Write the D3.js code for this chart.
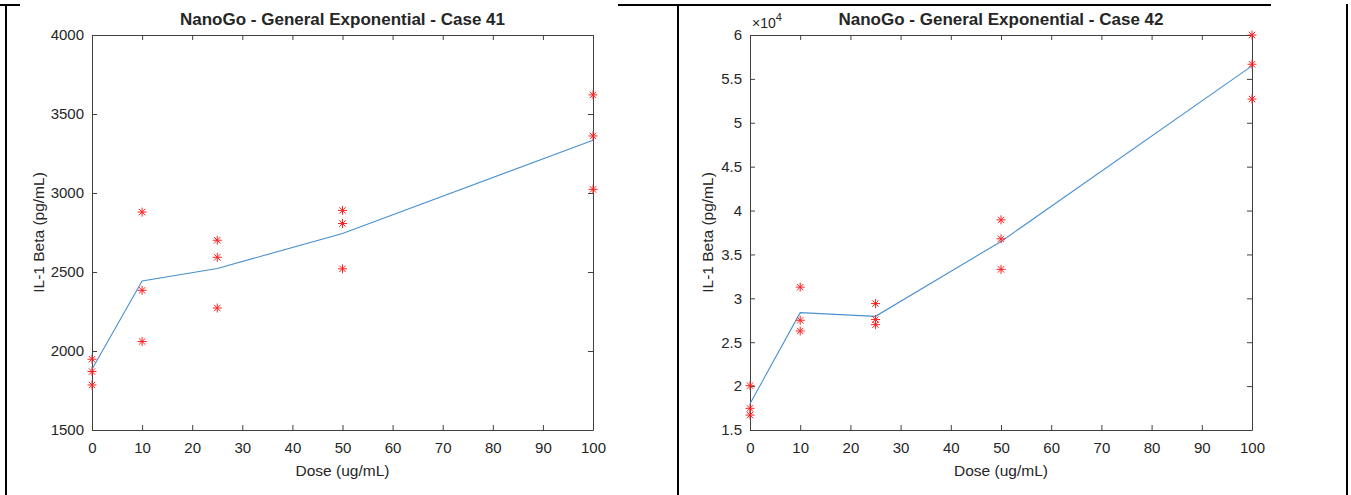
<!DOCTYPE html>
<html>
<head>
<meta charset="utf-8">
<script src="https://cdn.jsdelivr.net/npm/d3@7/dist/d3.min.js"></script>
<style>
  html, body { margin: 0; padding: 0; background: #fff; }
  svg { display: block; }
  text { font-family: Arial, "Liberation Sans", sans-serif; fill: #262626; }
</style>
</head>
<body>
<svg id="chart" width="1351" height="495"></svg>
<script>
// ---- data ----
const doses = [0, 10, 25, 50, 100];
const xTicks = [0, 10, 20, 30, 40, 50, 60, 70, 80, 90, 100];

// Case 41 (pg/mL), three replicates per dose
const obs41 = [
  [1948, 1870, 1785],
  [2879, 2384, 2060],
  [2701, 2593, 2272],
  [2890, 2807, 2520],
  [3621, 3361, 3023]
];
const fit41 = [1885, 2443, 2522, 2744, 3334];
const yTicks41 = [1500, 2000, 2500, 3000, 3500, 4000];

// Case 42 (pg/mL), three replicates per dose
const obs42 = [
  [20050, 17470, 16700],
  [31280, 27500, 26280],
  [29400, 27580, 27000],
  [38940, 36780, 33300],
  [60000, 56670, 52700]
];
const fit42 = [18000, 28370, 27950, 36480, 56480];
const yTicks42 = [15000, 20000, 25000, 30000, 35000, 40000, 45000, 50000, 55000, 60000];

const titles = ["NanoGo - General Exponential - Case 41", "NanoGo - General Exponential - Case 42"];
const xLabel = "Dose (ug/mL)";
const yLabel = "IL-1 Beta (pg/mL)";

// ---- drawing ----
const svg = d3.select("#chart");

// frame lines (table borders)
const frame = svg.append("g").attr("stroke", "#000").attr("stroke-width", 2);
frame.append("line").attr("x1", 6).attr("x2", 6).attr("y1", 4).attr("y2", 495);
frame.append("line").attr("x1", 678).attr("x2", 678).attr("y1", 4).attr("y2", 495);
frame.append("line").attr("x1", 1347).attr("x2", 1347).attr("y1", 4).attr("y2", 495);
frame.append("line").attr("x1", 0).attr("x2", 20).attr("y1", 5).attr("y2", 5);
frame.append("line").attr("x1", 618).attr("x2", 1271).attr("y1", 5).attr("y2", 5);

function asterisk(g, cx, cy, r) {
  const d = r * Math.SQRT1_2;
  const p = `M${cx - r},${cy}L${cx + r},${cy}M${cx},${cy - r}L${cx},${cy + r}` +
            `M${cx - d},${cy - d}L${cx + d},${cy + d}M${cx - d},${cy + d}L${cx + d},${cy - d}`;
  g.append("path").attr("d", p).attr("stroke", "#ff2020").attr("stroke-width", 1).attr("fill", "none");
}

function panel(opts) {
  const { x0, x1, yTop, yBot, domain, yTicks, obs, fit, title, fmt, exponent, ylabX } = opts;
  const g = svg.append("g");
  const x = d3.scaleLinear().domain([0, 100]).range([x0, x1]);
  const y = d3.scaleLinear().domain(domain).range([yBot, yTop]);
  const axisColor = "#404040";

  const styleAxis = (sel, labels) => {
    sel.select(".domain").attr("stroke", axisColor).attr("stroke-width", 1);
    sel.selectAll(".tick line").attr("stroke", axisColor).attr("stroke-width", 1);
    sel.selectAll(".tick text")
      .attr("font-size", 15)
      .attr("fill", "#262626")
      .attr("font-family", "Arial, 'Liberation Sans', sans-serif")
      .style("display", labels ? null : "none");
  };

  // bottom axis
  g.append("g").attr("transform", `translate(0,${yBot})`)
    .call(d3.axisBottom(x).tickValues(xTicks).tickSize(-5).tickSizeOuter(0).tickPadding(10))
    .call(s => styleAxis(s, true))
    .call(s => s.selectAll(".tick text").attr("dy", "0.71em").attr("y", 12));
  // top axis
  g.append("g").attr("transform", `translate(0,${yTop})`)
    .call(d3.axisTop(x).tickValues(xTicks).tickSize(-5).tickSizeOuter(0))
    .call(s => styleAxis(s, false));
  // left axis
  g.append("g").attr("transform", `translate(${x0},0)`)
    .call(d3.axisLeft(y).tickValues(yTicks).tickSize(-5).tickSizeOuter(0).tickPadding(8).tickFormat(fmt))
    .call(s => styleAxis(s, true));
  // right axis
  g.append("g").attr("transform", `translate(${x1},0)`)
    .call(d3.axisRight(y).tickValues(yTicks).tickSize(-5).tickSizeOuter(0))
    .call(s => styleAxis(s, false));

  // fit line
  const line = d3.line().x((d, i) => x(doses[i])).y(d => y(d));
  g.append("path").datum(fit).attr("d", line)
    .attr("fill", "none").attr("stroke", "#4a90d0").attr("stroke-width", 1.1);

  // observed points
  obs.forEach((vals, i) => {
    vals.forEach(v => asterisk(g, x(doses[i]), y(v), 4.5));
  });

  // title
  g.append("text").attr("x", (x0 + x1) / 2).attr("y", 25)
    .attr("text-anchor", "middle").attr("font-size", 17).attr("font-weight", "bold")
    .attr("fill", "#000").text(title);
  // x label
  g.append("text").attr("x", (x0 + x1) / 2).attr("y", 476)
    .attr("text-anchor", "middle").attr("font-size", 15.5).text(xLabel);
  // y label
  g.append("text").attr("transform", `translate(${ylabX},${(yTop + yBot) / 2}) rotate(-90)`)
    .attr("text-anchor", "middle").attr("font-size", 15.5).text(yLabel);

  if (exponent) {
    const t = g.append("text").attr("x", x0 + 2).attr("y", 28).attr("font-size", 14);
    t.append("tspan").text("\u00d710");
    t.append("tspan").attr("dy", -7).attr("font-size", 11).text(exponent);
  }
}

panel({
  x0: 92, x1: 593, yTop: 35, yBot: 430, domain: [1500, 4000], yTicks: yTicks41,
  obs: obs41, fit: fit41, title: titles[0], fmt: d3.format("d"), exponent: null, ylabX: 44
});
panel({
  x0: 750, x1: 1252, yTop: 35, yBot: 430, domain: [15000, 60000], yTicks: yTicks42,
  obs: obs42, fit: fit42, title: titles[1], fmt: d => String(d / 1e4), exponent: "4", ylabX: 713
});
</script>
</body>
</html>
